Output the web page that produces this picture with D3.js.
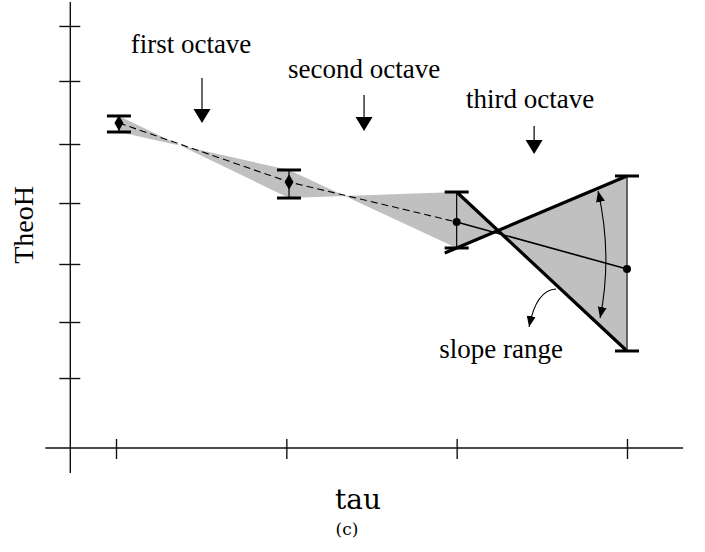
<!DOCTYPE html>
<html>
<head>
<meta charset="utf-8">
<script src="https://cdn.jsdelivr.net/npm/d3@7"></script>
<style>
  html, body { margin: 0; padding: 0; background: #fff; }
  svg { display: block; }
</style>
</head>
<body>
<svg id="chart" width="705" height="552"></svg>
<script>
// ---------- data ----------
const tauTicks   = [1, 2, 4, 8];
const yTicks     = [1.258, 2.265, 3.308, 4.404, 5.465, 6.598, 7.587];
const tauPoints  = [1.012, 2.022, 4, 8];
const theoH      = [5.843, 4.782, 4.063, 3.218];
const errLow     = [5.681, 4.494, 3.596, 1.744];
const errHigh    = [5.969, 4.998, 4.602, 4.890];

// annotations (data coordinates)
const octaveLabels   = ["first octave", "second octave", "third octave"];
const octaveLabelTau = [1.357, 2.744, 5.393];
const octaveLabelY   = [7.101, 6.652, 6.112];
const octaveArrowTau = [1.419, 2.744, 5.482];
const octaveArrowTop = [6.652, 6.346, 5.789];
const octaveArrowTip = [5.843, 5.699, 5.285];

const slopeLabel     = "slope range";
const slopeLabelPos  = [4.792, 1.618];
// double-headed arc: start, control, end  [tau, value]
const slopeArc       = [[7.112, 4.620], [7.545, 3.461], [7.17, 2.337]];
// pointer from the lower thick line to the label
const slopePointer   = [[5.995, 2.858], [5.526, 2.840], [5.371, 2.175]];

const xAxisExtent = [0.75, 10.05];
const yAxisExtent = [-0.45, 8.02];

// ---------- scales ----------
const x = d3.scaleLog().base(2).domain([1, 8]).range([116, 627]);
const y = d3.scaleLinear().domain([0, 8]).range([448, 3]);

const svg = d3.select("#chart");
const gray = "#c0c0c0";

// markers
const defs = svg.append("defs");
defs.append("marker")
  .attr("id", "ah")
  .attr("markerUnits", "userSpaceOnUse")
  .attr("markerWidth", 12).attr("markerHeight", 10)
  .attr("refX", 11).attr("refY", 4.5)
  .attr("orient", "auto-start-reverse")
  .append("path").attr("d", "M0,0 L11,4.5 L0,9 Z").attr("fill", "#000");

// ---------- shaded bowties ----------
for (let i = 0; i < tauPoints.length - 1; i++) {
  const pts = [
    [x(tauPoints[i]), y(errHigh[i])],
    [x(tauPoints[i + 1]), y(errLow[i + 1])],
    [x(tauPoints[i + 1]), y(errHigh[i + 1])],
    [x(tauPoints[i]), y(errLow[i])]
  ];
  svg.append("path")
    .attr("d", "M" + pts.map(p => p.join(",")).join("L") + "Z")
    .attr("fill", gray).attr("stroke", "none");
}

// ---------- axes ----------
const axes = svg.append("g").attr("stroke", "#111").attr("stroke-width", 1.4);
axes.append("line")
  .attr("x1", x(xAxisExtent[0])).attr("x2", x(xAxisExtent[1]))
  .attr("y1", y(0)).attr("y2", y(0));
axes.append("line")
  .attr("x1", x(xAxisExtent[0]) + 25).attr("x2", x(xAxisExtent[0]) + 25)
  .attr("y1", y(yAxisExtent[0])).attr("y2", y(yAxisExtent[1]));

const yAxisX = x(xAxisExtent[0]) + 25;
const yAxis = d3.axisLeft(y).tickValues(yTicks).tickSize(21).tickFormat("");
svg.append("g").attr("transform", `translate(${yAxisX + 10},0)`).call(yAxis)
  .call(g => g.select(".domain").remove())
  .call(g => g.selectAll(".tick line").attr("stroke", "#111").attr("stroke-width", 1.4));

const xAxis = d3.axisBottom(x).tickValues(tauTicks).tickSize(20).tickFormat("");
svg.append("g").attr("transform", `translate(0,${y(0) - 9})`).call(xAxis)
  .call(g => g.select(".domain").remove())
  .call(g => g.selectAll(".tick line").attr("stroke", "#111").attr("stroke-width", 1.4));

// ---------- fit lines ----------
const line = d3.line().x(d => x(d[0])).y(d => y(d[1]));
const pts = tauPoints.map((t, i) => [t, theoH[i]]);
svg.append("path").attr("d", line(pts.slice(0, 3)))
  .attr("fill", "none").attr("stroke", "#000").attr("stroke-width", 1.1)
  .attr("stroke-dasharray", "7,4");
svg.append("path").attr("d", line(pts.slice(2, 4)))
  .attr("fill", "none").attr("stroke", "#000").attr("stroke-width", 1.6);

// thick slope-range lines
const i3 = 2, i4 = 3;
const A0 = [x(tauPoints[i3]), y(errHigh[i3])], A1 = [x(tauPoints[i4]), y(errLow[i4])];
const B0 = [x(tauPoints[i3]), y(errLow[i3])], B1 = [x(tauPoints[i4]), y(errHigh[i4])];
const ext = 0.07;
const B0e = [B0[0] - (B1[0] - B0[0]) * ext, B0[1] - (B1[1] - B0[1]) * ext];
[[A0, A1], [B0e, B1]].forEach(([p, q]) => {
  svg.append("line")
    .attr("x1", p[0]).attr("y1", p[1]).attr("x2", q[0]).attr("y2", q[1])
    .attr("stroke", "#000").attr("stroke-width", 3.2);
});

// ---------- error bars ----------
tauPoints.forEach((t, i) => {
  const cx = x(t);
  svg.append("line")
    .attr("x1", cx).attr("x2", cx)
    .attr("y1", y(errHigh[i])).attr("y2", y(errLow[i]))
    .attr("stroke", i === 3 ? "#444" : "#000")
    .attr("stroke-width", i === 3 ? 1.6 : 1.2);
  [errHigh[i], errLow[i]].forEach(v => {
    svg.append("line")
      .attr("x1", cx - 12).attr("x2", cx + 12)
      .attr("y1", y(v)).attr("y2", y(v))
      .attr("stroke", "#000").attr("stroke-width", 3);
  });
});

// ---------- points ----------
tauPoints.forEach((t, i) => {
  const sym = i < 2 ? d3.symbolDiamond : d3.symbolCircle;
  svg.append("path")
    .attr("d", d3.symbol().type(sym).size(i < 2 ? 70 : 50)())
    .attr("transform", `translate(${x(t)},${y(theoH[i])})`)
    .attr("fill", "#000");
});

// ---------- annotations ----------
const serif = "'Liberation Serif', 'Times New Roman', serif";
octaveLabels.forEach((lab, i) => {
  svg.append("text")
    .attr("x", x(octaveLabelTau[i])).attr("y", y(octaveLabelY[i]))
    .attr("text-anchor", "middle")
    .attr("font-family", serif).attr("font-size", 27)
    .attr("fill", "#000").text(lab);
  const ax = x(octaveArrowTau[i]);
  const top = y(octaveArrowTop[i]), tip = y(octaveArrowTip[i]);
  const hh = 14, hw = 8.5;
  svg.append("line")
    .attr("x1", ax).attr("x2", ax).attr("y1", top).attr("y2", tip - hh + 1)
    .attr("stroke", "#000").attr("stroke-width", 1.2);
  svg.append("path")
    .attr("d", `M${ax - hw},${tip - hh} L${ax + hw},${tip - hh} L${ax},${tip} Z`)
    .attr("fill", "#000");
});

const qpath = p => `M${x(p[0][0])},${y(p[0][1])} Q${x(p[1][0])},${y(p[1][1])} ${x(p[2][0])},${y(p[2][1])}`;
svg.append("path").attr("d", qpath(slopeArc))
  .attr("fill", "none").attr("stroke", "#000").attr("stroke-width", 1.1)
  .attr("marker-start", "url(#ah)").attr("marker-end", "url(#ah)");
svg.append("path").attr("d", qpath(slopePointer))
  .attr("fill", "none").attr("stroke", "#000").attr("stroke-width", 1.1)
  .attr("marker-end", "url(#ah)");

svg.append("text")
  .attr("x", x(slopeLabelPos[0])).attr("y", y(slopeLabelPos[1]))
  .attr("text-anchor", "middle")
  .attr("font-family", serif).attr("font-size", 27)
  .attr("fill", "#000").text(slopeLabel);

// axis titles
svg.append("text")
  .attr("transform", `translate(33,${y(4.009)}) rotate(-90)`)
  .attr("text-anchor", "middle")
  .attr("font-family", serif).attr("font-size", 28)
  .attr("fill", "#000").text("TheoH");
svg.append("text")
  .attr("x", x(2.678)).attr("y", 509)
  .attr("text-anchor", "middle")
  .attr("font-family", "'DejaVu Serif', serif").attr("font-size", 28)
  .attr("fill", "#000").text("tau");
svg.append("text")
  .attr("x", 347).attr("y", 535)
  .attr("text-anchor", "middle")
  .attr("font-family", "'DejaVu Serif', serif").attr("font-size", 17)
  .attr("fill", "#000").text("(c)");
</script>
</body>
</html>
